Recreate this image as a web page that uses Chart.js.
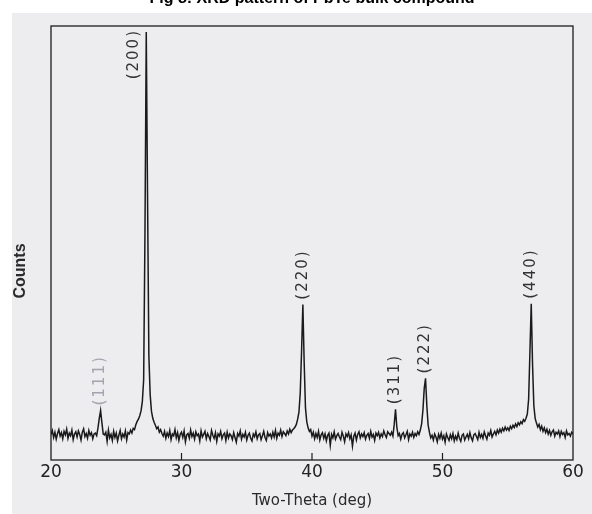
<!DOCTYPE html>
<html>
<head>
<meta charset="utf-8">
<script src="https://cdn.jsdelivr.net/npm/chart.js@4.4.1/dist/chart.umd.min.js"></script>
<style>
  html, body { margin: 0; padding: 0; background: #fff; }
  #wrap { width: 592px; height: 514px; }
</style>
</head>
<body>
<div id="wrap"><canvas id="xrdChart" width="592" height="514"></canvas></div>
<script>
// scan : 20.0 -> 60.0 deg, pas de 0.1 deg
const scanStart = 20;
const scanStep = 0.1;
const counts = [
  5.9, 6.8, 5.2, 6.4, 4.8, 6.1, 7.0, 5.5, 6.3, 4.9,   // 20
  6.6, 5.8, 7.1, 5.0, 6.2, 5.6, 6.9, 4.7, 6.0, 6.5,   // 21
  5.3, 6.7, 5.9, 4.6, 6.4, 7.2, 5.4, 6.1, 5.0, 6.8,   // 22
  5.7, 6.3, 4.9, 6.0, 6.2, 5.6, 7.4, 9.6, 11.4, 8.6,  // 23
  6.0, 5.8, 6.4, 4.3, 6.9, 5.1, 5.9, 4.5, 6.6, 5.2,   // 24
  6.2, 4.4, 5.7, 6.8, 4.9, 6.0, 5.3, 6.7, 4.6, 6.3,   // 25
  6.0, 6.9, 6.2, 7.3, 7.0, 8.1, 8.9, 9.4, 10.2, 11.3, // 26
  13.5, 18.5, 52, 98.6, 60, 24, 15, 11.2, 9.6, 8.7,   // 27
  8.0, 7.2, 7.6, 6.4, 7.0, 6.1, 5.5, 6.6, 5.0, 6.2,   // 28
  5.4, 6.8, 4.7, 6.0, 5.6, 7.0, 5.1, 6.3, 4.5, 5.9,   // 29
  6.4, 5.2, 6.7, 4.2, 5.8, 6.1, 5.0, 6.9, 5.4, 6.2,   // 30
  4.8, 6.5, 5.6, 6.0, 4.4, 6.7, 5.3, 5.9, 6.6, 4.9,   // 31
  6.1, 5.4, 4.6, 6.8, 5.7, 5.0, 6.3, 4.3, 6.0, 5.5,   // 32
  6.6, 4.9, 5.8, 6.2, 4.5, 6.4, 5.1, 6.0, 5.6, 4.7,   // 33
  6.3, 5.2, 4.1, 6.1, 5.5, 6.7, 4.8, 5.9, 5.3, 6.4,   // 34
  4.6, 5.7, 6.2, 5.0, 4.4, 6.0, 5.4, 6.5, 4.9, 5.8,   // 35
  6.1, 4.7, 5.6, 6.6, 5.2, 4.5, 6.3, 5.5, 6.0, 5.1,   // 36
  6.4, 5.3, 6.8, 5.0, 6.2, 5.7, 6.9, 5.4, 6.5, 6.1,   // 37
  5.6, 6.7, 6.0, 7.1, 6.3, 6.9, 7.2, 7.6, 8.2, 9.4,   // 38
  11.0, 15.5, 25.0, 35.8, 22.5, 12.0, 8.8, 7.4, 6.6, 7.0, // 39
  5.5, 6.4, 4.9, 6.1, 5.2, 6.6, 4.6, 5.8, 6.3, 5.0,   // 40
  6.0, 4.4, 5.7, 6.2, 3.4, 5.9, 5.1, 6.5, 4.8, 5.6,   // 41
  6.1, 5.3, 4.7, 6.4, 5.5, 4.2, 6.0, 5.4, 6.3, 4.9,   // 42
  5.8, 3.2, 5.5, 6.2, 4.6, 5.9, 6.5, 5.1, 6.0, 5.4,   // 43
  6.3, 4.8, 5.7, 6.1, 5.0, 6.6, 5.3, 5.9, 4.5, 6.2,   // 44
  5.6, 6.4, 5.1, 6.0, 5.4, 6.7, 5.8, 5.2, 6.5, 6.1,   // 45
  5.7, 6.4, 5.5, 8.2, 11.7, 7.6, 5.6, 6.1, 4.8, 5.9,  // 46
  6.3, 5.1, 5.8, 6.6, 4.7, 6.0, 5.5, 6.4, 5.2, 6.1,   // 47
  5.6, 6.5, 5.9, 6.9, 8.3, 11.5, 16.5, 18.8, 12.5, 8.0, // 48
  6.4, 5.1, 5.7, 4.6, 6.0, 5.3, 4.2, 5.9, 5.0, 6.2,   // 49
  4.8, 5.6, 4.1, 6.0, 5.2, 4.5, 5.8, 4.9, 6.1, 4.4,   // 50
  5.5, 4.7, 6.2, 5.0, 4.3, 5.7, 6.0, 4.6, 5.3, 5.9,   // 51
  4.9, 6.3, 5.1, 4.4, 5.8, 6.1, 5.4, 4.7, 6.4, 5.2,   // 52
  5.9, 5.0, 6.5, 5.6, 4.8, 6.2, 5.7, 6.8, 5.3, 6.0,   // 53
  6.6, 5.8, 6.9, 6.2, 7.1, 6.4, 7.3, 6.7, 7.6, 6.9,   // 54
  7.4, 6.8, 7.8, 7.2, 8.0, 7.5, 8.3, 7.7, 8.6, 8.1,   // 55
  8.8, 8.4, 9.3, 8.9, 9.6, 10.6, 14.0, 25.0, 36.0, 22.0, // 56
  12.5, 9.6, 8.5, 7.6, 8.2, 7.0, 7.8, 6.6, 7.4, 6.3,  // 57
  7.1, 6.0, 6.8, 5.7, 6.5, 6.9, 5.5, 6.4, 6.0, 6.7,   // 58
  5.4, 6.6, 5.9, 6.3, 5.2, 6.7, 5.8, 6.1, 5.5, 6.4,   // 59
  6.0                                                 // 60
];

// indexation des pics
const peakLabels = ['(111)', '(200)', '(220)', '(311)', '(222)', '(440)'];
const peakAngles = [23.8, 27.3, 39.3, 46.4, 48.7, 56.8];
const faintLabels = ['(111)'];

const xTicks = [20, 30, 40, 50, 60];

const points = counts.map((c, i) => ({ x: +(scanStart + i * scanStep).toFixed(1), y: c }));

// fond du scan
const paperBg = {
    id: 'paperBg',
    beforeDraw(chart) {
        const ctx = chart.ctx;
        ctx.save();
        ctx.fillStyle = '#ffffff';
        ctx.fillRect(0, 0, chart.width, chart.height);
        ctx.fillStyle = '#ededf0';
        ctx.fillRect(12, 13, chart.width - 12, chart.height - 13);
        ctx.restore();
    }
};

// cadre + petites graduations vers l'intérieur
const frame = {
    id: 'frame',
    afterDatasetsDraw(chart) {
        const { ctx, chartArea: a, scales } = chart;
        ctx.save();
        ctx.strokeStyle = '#1c1c1c';
        ctx.lineWidth = 1.3;
        ctx.strokeRect(a.left, a.top, a.right - a.left, a.bottom - a.top);
        ctx.lineWidth = 1.2;
        xTicks.slice(1, -1).forEach(t => {
            const x = scales.x.getPixelForValue(t);
            ctx.beginPath();
            ctx.moveTo(x, a.bottom);
            ctx.lineTo(x, a.bottom - 7);
            ctx.stroke();
        });
        ctx.restore();
    }
};

// étiquettes (hkl) verticales au-dessus des pics
const peakTags = {
    id: 'peakTags',
    afterDatasetsDraw(chart) {
        const { ctx, chartArea: a, scales } = chart;
        ctx.save();
        ctx.font = '15px "DejaVu Sans"';
        ctx.letterSpacing = '2px';
        ctx.textBaseline = 'middle';
        peakLabels.forEach((lab, k) => {
            const idx = Math.round((peakAngles[k] - scanStart) / scanStep);
            let x = scales.x.getPixelForValue(peakAngles[k]);
            let y = scales.y.getPixelForValue(counts[idx]) - 5;
            const w = ctx.measureText(lab).width;
            ctx.fillStyle = faintLabels.includes(lab) ? '#a4a4ae' : '#333333';
            ctx.save();
            if (y - w < a.top + 2) {
                // pic qui touche le haut : étiquette à gauche
                x -= 12;
                ctx.translate(x, a.top + 3);
                ctx.rotate(-Math.PI / 2);
                ctx.textAlign = 'right';
            } else {
                ctx.translate(x, y);
                ctx.rotate(-Math.PI / 2);
                ctx.textAlign = 'left';
            }
            ctx.fillText(lab, 0, 0);
            ctx.restore();
        });
        ctx.restore();
    }
};

// titre de l'axe Y
const yTitle = {
    id: 'yTitle',
    afterDraw(chart) {
        const ctx = chart.ctx;
        ctx.save();
        ctx.translate(21, 271);
        ctx.rotate(-Math.PI / 2);
        ctx.font = 'bold 16px "Liberation Sans"';
        ctx.fillStyle = '#2a2a2a';
        ctx.textAlign = 'center';
        ctx.textBaseline = 'middle';
        ctx.fillText('Counts', 0, 0);
        ctx.restore();
    }
};

const xrdChart = new Chart(
    document.getElementById('xrdChart').getContext('2d'),
    {
        type: 'line',
        data: {
            datasets: [{
                label: 'PbTe',
                data: points,
                borderColor: '#1a1a1a',
                borderWidth: 1.5,
                pointRadius: 0,
                tension: 0
            }]
        },
        options: {
            responsive: false,
            animation: false,
            layout: {
                padding: { left: 51, right: 19, top: 0, bottom: 0 }
            },
            plugins: {
                legend: { display: false },
                tooltip: { enabled: false },
                title: {
                    display: true,
                    text: 'Fig 8: XRD pattern of PbTe bulk compound',
                    color: '#000',
                    font: { family: 'Liberation Sans', size: 16, weight: 'bold' },
                    padding: { top: -11, bottom: 17.8 }
                }
            },
            scales: {
                x: {
                    type: 'linear',
                    min: 20,
                    max: 60,
                    afterBuildTicks: axis => { axis.ticks = xTicks.map(v => ({ value: v })); },
                    grid: { display: false, drawTicks: false },
                    border: { display: false },
                    ticks: {
                        color: '#222',
                        padding: 2,
                        font: { family: 'DejaVu Sans', size: 17 }
                    },
                    title: {
                        display: true,
                        text: 'Two-Theta (deg)',
                        color: '#2a2a2a',
                        font: { family: 'DejaVu Sans', size: 15 },
                        padding: { top: 7.6, bottom: 4 }
                    }
                },
                y: {
                    display: false,
                    min: 0,
                    max: 100
                }
            }
        },
        plugins: [paperBg, frame, peakTags, yTitle]
    }
);
</script>
</body>
</html>
